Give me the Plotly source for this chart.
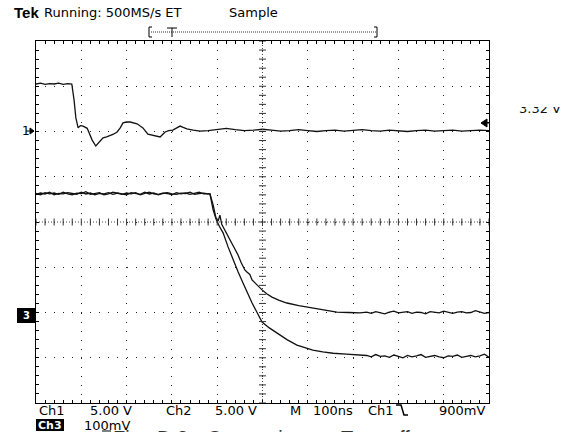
import plotly.graph_objects as go

W, H = 571, 432

# Screen units: x in divisions (100 ns/div), y in divisions above the bottom graticule line
ch1_t = [0.0, 0.1, 0.2, 0.3, 0.4, 0.5, 0.6, 0.7, 0.79,
         0.84, 0.88, 0.93, 0.98, 1.04, 1.13, 1.24, 1.32, 1.41, 1.48,
         1.56, 1.63, 1.71, 1.79, 1.86, 1.92, 2.0, 2.08, 2.16, 2.23,
         2.30, 2.36, 2.47, 2.58, 2.66, 2.74, 2.85, 2.93, 3.02, 3.10,
         3.18, 3.25, 3.33, 3.47, 3.62,
         3.8, 4.0, 4.2, 4.4, 4.6, 4.8, 5.0, 5.2, 5.4, 5.6,
         5.8, 6.0, 6.2, 6.4, 6.6, 6.8, 7.0, 7.2, 7.4, 7.6,
         7.8, 8.0, 8.2, 8.4, 8.6, 8.8, 9.0, 9.2, 9.4, 9.6,
         9.8, 10.0]
ch1_v = [7.05, 7.07, 7.04, 7.06, 7.05, 7.07, 7.04, 7.06, 7.05,
         6.70, 6.30, 6.08, 6.13, 6.12, 6.07, 5.81, 5.68, 5.77, 5.86,
         5.88, 5.90, 5.94, 5.99, 6.08, 6.19, 6.21, 6.21, 6.19, 6.17,
         6.12, 6.08, 5.94, 5.92, 5.90, 5.88, 5.99, 6.02, 6.03, 6.08,
         6.12, 6.09, 6.06, 6.03, 6.01,
         6.02, 6.05, 6.07, 6.04, 6.02, 6.03, 6.05, 6.03, 6.01, 6.02,
         6.04, 6.02, 6.00, 6.02, 6.03, 6.01, 6.02, 6.04, 6.02, 6.01,
         6.03, 6.02, 6.00, 6.02, 6.03, 6.01, 6.02, 6.03, 6.01, 6.02,
         6.03, 6.02]

# shared sample times before the edge and on the settled tail
pre_t = [0.0, 0.1, 0.2, 0.3, 0.4, 0.5, 0.6, 0.7, 0.8, 0.9,
         1.0, 1.1, 1.2, 1.3, 1.4, 1.5, 1.6, 1.7, 1.8, 1.9,
         2.0, 2.1, 2.2, 2.3, 2.4, 2.5, 2.6, 2.7, 2.8, 2.9,
         3.0, 3.1, 3.2, 3.3, 3.4, 3.5, 3.6, 3.7, 3.8]
tail_t = [7.3, 7.4, 7.5, 7.6, 7.7, 7.8, 7.9, 8.0, 8.1, 8.2,
          8.3, 8.4, 8.5, 8.6, 8.7, 8.8, 8.9, 9.0, 9.1, 9.2,
          9.3, 9.4, 9.5, 9.6, 9.7, 9.8, 9.9, 10.0]

ch2_edge_t = [3.84, 3.91, 3.97, 4.02, 4.06, 4.10, 4.18, 4.28, 4.37, 4.46,
              4.53, 4.61, 4.65, 4.72, 4.77, 4.88, 4.99, 5.10, 5.21, 5.37,
              5.54, 5.80, 6.11, 6.40, 6.64, 6.90, 7.15]
ch2_pre = [4.63, 4.60, 4.65, 4.62, 4.64, 4.61, 4.66, 4.62, 4.60, 4.64,
           4.63, 4.67, 4.61, 4.63, 4.65, 4.60, 4.62, 4.66, 4.63, 4.61,
           4.64, 4.62, 4.65, 4.60, 4.63, 4.66, 4.62, 4.61, 4.64, 4.63,
           4.60, 4.65, 4.62, 4.64, 4.61, 4.63, 4.66, 4.62, 4.63]
ch2_edge = [4.62, 4.38, 4.10, 4.02, 4.15, 3.95, 3.80, 3.60, 3.42, 3.27,
            3.10, 2.94, 2.90, 2.84, 2.72, 2.60, 2.50, 2.41, 2.34, 2.27,
            2.21, 2.15, 2.10, 2.05, 2.01, 2.00, 1.99]
ch2_tail = [2.01, 1.98, 2.02, 2.00, 1.97, 2.01, 2.03, 1.99, 2.00, 2.02,
            1.98, 2.01, 2.00, 1.97, 2.02, 2.01, 1.99, 2.03, 2.00, 1.98,
            2.01, 2.02, 1.99, 2.00, 2.04, 2.01, 1.98, 2.00]

ch3_edge_t = [3.84, 3.91, 3.98, 4.05, 4.13, 4.24, 4.35, 4.46, 4.57, 4.67,
              4.77, 4.88, 4.99, 5.15, 5.32, 5.54, 5.76, 5.93, 6.11, 6.33,
              6.56, 6.85, 7.15]
ch3_pre = [4.61, 4.64, 4.62, 4.66, 4.60, 4.63, 4.62, 4.65, 4.63, 4.61,
           4.66, 4.62, 4.64, 4.60, 4.63, 4.62, 4.65, 4.61, 4.64, 4.62,
           4.60, 4.65, 4.63, 4.61, 4.66, 4.62, 4.64, 4.60, 4.63, 4.65,
           4.62, 4.61, 4.64, 4.63, 4.66, 4.61, 4.63, 4.64, 4.62]
ch3_edge = [4.62, 4.27, 4.05, 3.90, 3.76, 3.45, 3.16, 2.90, 2.65, 2.42,
            2.21, 2.00, 1.79, 1.66, 1.55, 1.40, 1.28, 1.22, 1.17, 1.13,
            1.10, 1.08, 1.06]
ch3_tail = [1.05, 1.02, 1.07, 1.03, 1.04, 1.01, 1.06, 1.03, 1.00, 1.05,
            1.02, 1.04, 1.07, 1.01, 1.03, 1.05, 1.02, 1.00, 1.04, 1.03,
            1.06, 1.01, 1.03, 1.05, 1.02, 1.04, 1.08, 1.01]

header_logo = "Tek"
header_status = "Running: 500MS/s ET"
header_mode = "Sample"
readout_row1 = ["Ch1", "5.00 V", "Ch2", "5.00 V", "M", "100ns", "Ch1", "900mV"]
readout_ch3 = ["Ch3", "100mV"]
trigger_level = "3.32 V"
caption_words = ["Fig.", "D.3", "Comparing", "Turn-off"]

NX, NY = 10, 8
FONT = "DejaVu Sans"


def X(px):
    return px / W


def Y(py):
    return 1 - py / H


fig = go.Figure()

trace_style = dict(mode="lines", line=dict(color="#111111", width=1.3),
                   hoverinfo="skip", showlegend=False)
fig.add_trace(go.Scatter(x=ch1_t, y=ch1_v, **trace_style))
fig.add_trace(go.Scatter(x=pre_t + ch2_edge_t + tail_t,
                         y=ch2_pre + ch2_edge + ch2_tail, **trace_style))
fig.add_trace(go.Scatter(x=pre_t + ch3_edge_t + tail_t,
                         y=ch3_pre + ch3_edge + ch3_tail, **trace_style))

# centre crosshair ticks every minor division
minor_x = [i / 5 for i in range(NX * 5 + 1)]
minor_y = [i / 5 for i in range(NY * 5 + 1)]
fig.add_trace(go.Scatter(x=minor_x, y=[NY / 2] * len(minor_x), mode="markers",
                         marker=dict(symbol="line-ns", size=5,
                                     line=dict(color="#333", width=1)),
                         hoverinfo="skip", showlegend=False))
fig.add_trace(go.Scatter(x=[NX / 2] * len(minor_y), y=minor_y, mode="markers",
                         marker=dict(symbol="line-ew", size=5,
                                     line=dict(color="#333", width=1)),
                         hoverinfo="skip", showlegend=False))

# trigger level readout, clipped along its top edge
fig.add_trace(go.Scatter(x=[4], y=[15.5], text=[trigger_level], mode="text",
                         textposition="middle right", cliponaxis=True,
                         textfont=dict(family=FONT, size=13, color="#111"),
                         xaxis="x2", yaxis="y2", hoverinfo="skip",
                         showlegend=False))

axis_common = dict(showticklabels=False, zeroline=False,
                   showline=True, linecolor="black", linewidth=1, mirror="allticks",
                   ticks="inside", ticklen=3, tickcolor="black", tickwidth=1,
                   showgrid=True, gridcolor="#222", gridwidth=1,
                   griddash="1px,8.05px", dtick=1, tick0=0,
                   minor=dict(dtick=0.2, ticks="inside", ticklen=3,
                              tickcolor="black", showgrid=False),
                   fixedrange=True)

fig.update_layout(
    width=W, height=H,
    margin=dict(l=0, r=0, t=0, b=0),
    paper_bgcolor="white", plot_bgcolor="white",
    xaxis=dict(domain=[X(36), X(489)], range=[0, NX], **axis_common),
    yaxis=dict(domain=[Y(403), Y(41)], range=[0, NY], **axis_common),
    xaxis2=dict(domain=[X(515), 1.0], range=[0, 56], visible=False,
                anchor="y2", fixedrange=True),
    yaxis2=dict(domain=[Y(125), Y(107)], range=[0, 18], visible=False,
                anchor="x2", fixedrange=True),
)

shapes = []
# dense dotted centre lines
shapes.append(dict(type="line", xref="x", yref="y", x0=0, x1=NX, y0=NY / 2, y1=NY / 2,
                   line=dict(color="#444", width=1, dash="1px,2px")))
shapes.append(dict(type="line", xref="x", yref="y", x0=NX / 2, x1=NX / 2, y0=0, y1=NY,
                   line=dict(color="#444", width=1, dash="1px,2px")))


def pline(points, width=1, color="black", fill=None):
    path = "M " + " L ".join(f"{X(a)},{Y(b)}" for a, b in points)
    if fill:
        path += " Z"
    shapes.append(dict(type="path", xref="paper", yref="paper", path=path,
                       line=dict(color=color, width=width),
                       fillcolor=fill if fill else "rgba(0,0,0,0)"))


# record-window bracket with trigger position
shapes.append(dict(type="line", xref="paper", yref="paper", x0=X(151), x1=X(376),
                   y0=Y(32), y1=Y(32), line=dict(color="#333", width=1, dash="1px,1px")))
pline([(152, 27), (149, 27), (149, 37), (152, 37)])
pline([(374, 27), (377, 27), (377, 37), (374, 37)])
pline([(167, 28), (177, 28)])
pline([(172, 28), (172, 37)])

# channel 1 ground marker arrow
pline([(26, 131), (32, 131)])
pline([(30, 128), (34, 131), (30, 134)], fill="black")

# trigger level arrow on the right edge
pline([(487, 119), (481, 123), (487, 127)], fill="black")
pline([(484, 123), (489, 123)])

# channel 3 ground marker box
shapes.append(dict(type="rect", xref="paper", yref="paper", x0=X(17), x1=X(35),
                   y0=Y(323), y1=Y(308), fillcolor="black", line=dict(width=0)))

# inverted Ch3 label box
shapes.append(dict(type="rect", xref="paper", yref="paper", x0=X(36), x1=X(64),
                   y0=Y(431), y1=Y(419), fillcolor="black", line=dict(width=0)))

# falling-edge trigger glyph
pline([(396, 405), (401, 405), (404, 415), (408, 415)], width=1.5)

# underline under the milli prefix
pline([(102, 431), (111, 431)])

fig.update_layout(shapes=shapes)

ann = []


def note(text, px, py, size=13, color="black", bold=False, xanchor="left",
         yanchor="middle", family=FONT):
    ann.append(dict(text=f"<b>{text}</b>" if bold else text, x=X(px), y=Y(py),
                    xref="paper", yref="paper", showarrow=False,
                    xanchor=xanchor, yanchor=yanchor,
                    font=dict(family=family, size=size, color=color)))


note(header_logo, 12, 13, size=15, bold=True, family="Liberation Sans")
note(header_status, 42, 13)
note(header_mode, 227, 13)

row1_x = [37, 88, 164, 213, 288, 311, 366, 437]
for label, px in zip(readout_row1, row1_x):
    note(label, px, 410)

note(readout_ch3[0], 50, 425, size=11, color="white", bold=True, xanchor="center")
note(readout_ch3[1], 82, 425)

note("1", 20, 131, size=12)
note("3", 26, 315, size=10, color="white", bold=True, xanchor="center")

# figure caption running off the bottom edge
caption_x = [111, 155, 205, 339]
for word, px in zip(caption_words, caption_x):
    note(word, px, 425, size=20, color="#333", yanchor="top", family="Liberation Sans")

fig.update_layout(annotations=ann)

fig.write_html("out.html")
